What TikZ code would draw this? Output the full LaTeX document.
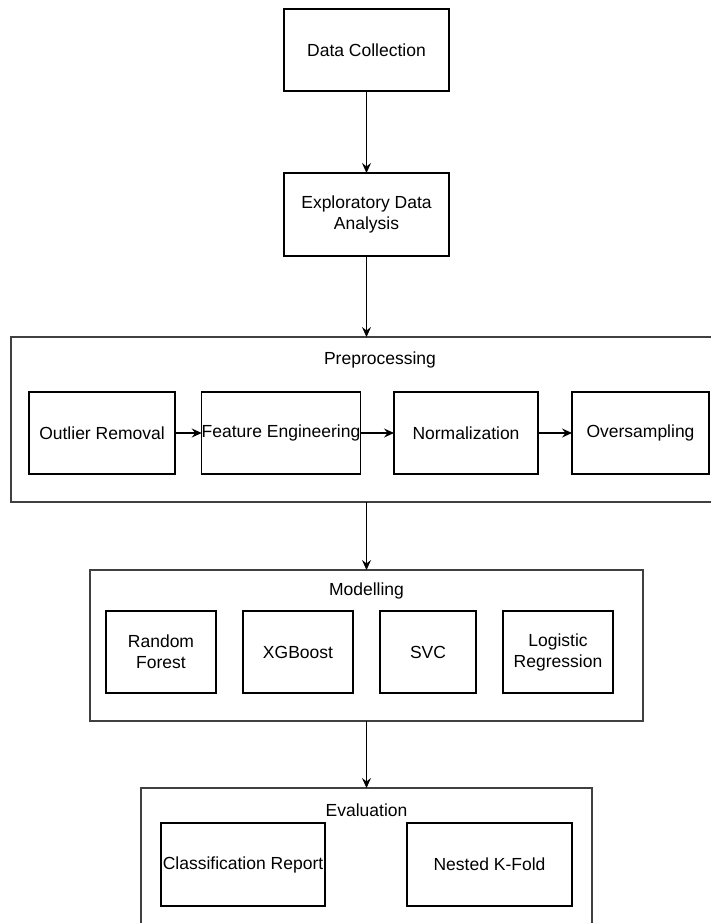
\documentclass[tikz,border=0pt]{standalone}
\usepackage{fontspec}
\setmainfont{Liberation Sans}
\usepackage{tikz}
\usetikzlibrary{
  arrows.meta,
  chains,
  positioning,
  scopes
}

\begin{document}
\begin{tikzpicture}[
      x=1pt,y=-1pt,
      step box/.style={
         rectangle,
         draw=black,
         line width=1.1pt,
         inner sep=0pt,
         outer sep=0pt,
         align=center,
         text=black,
         font=\fontsize{17.5}{21}\selectfont
      },
      group box/.style={
         rectangle,
         draw=black!75,
         line width=1.5pt,
         inner sep=0pt,
         outer sep=0pt
      },
      group title/.style={
         inner sep=0pt,
         text=black,
         font=\fontsize{17.5}{21}\selectfont
      },
      >={Stealth[length=10pt,width=9pt,inset=3.5pt]},
      tip/.style={->,line width=1.1pt,draw=black},
      every join/.style={line width=1.1pt}
    ]
    \useasboundingbox (0,0) rectangle (711,923);
    % top steps
    \node (n1) [step box, minimum width=165, minimum height=82] at (366.5,50) {Data Collection};
    \node (n2) [step box, minimum width=165, minimum height=83] at (366.5,214.5) {Exploratory Data\\Analysis};
    % preprocessing
    \node (n3) [group box, minimum width=738, minimum height=165] at (380,419.5) {};
    \node (n30) [group title] at (380,360) {Preprocessing};
    \node (n31) [step box, minimum width=146, minimum height=82] at (102,433) {Outlier Removal};
    \node (n32) [step box, minimum width=158, minimum height=82] at (281,433) {Feature Engineering};
    \node (n33) [step box, minimum width=144, minimum height=82] at (466,433) {Normalization};
    \node (n34) [step box, minimum width=137, minimum height=82] at (640.5,433) {Oversampling};
    % modelling
    \node (n4) [group box, minimum width=553, minimum height=151] at (366.5,645.5) {};
    \node (n40) [group title] at (366.5,591) {Modelling};
    \node (n41) [step box, minimum width=110, minimum height=82] at (161,652) {Random\\Forest};
    \node (n42) [step box, minimum width=110, minimum height=82] at (298,652) {XGBoost};
    \node (n43) [step box, minimum width=96, minimum height=82] at (428,652) {SVC};
    \node (n44) [step box, minimum width=110, minimum height=82] at (558,652) {Logistic\\Regression};
    % evaluation
    \node (n5) [group box, minimum width=451, minimum height=162] at (366.5,869) {};
    \node (n50) [group title] at (366.5,810) {Evaluation};
    \node (n51) [step box, minimum width=164, minimum height=83] at (243,864.5) {Classification Report};
    \node (n52) [step box, minimum width=165, minimum height=83] at (489.5,864.5) {Nested K-Fold};
  { [start chain]
       \chainin (n1);
       \chainin (n2)    [join=by tip];
  }
  { [start chain]
       \chainin (n31);
       \chainin (n32)    [join=by tip];
  }
  { [start chain]
       \chainin (n32);
       \chainin (n33)    [join=by tip];
  }
  { [start chain]
       \chainin (n33);
       \chainin (n34)    [join=by tip];
  }
  { [start chain]
       \chainin (n4);
       \chainin (n5)    [join=by tip];
  }
    \draw [tip] (n2.south) -- (n2.south |- n3.north);
    \draw [tip] (n4.north |- n3.south) -- (n4.north);
\end{tikzpicture}
\end{document}
